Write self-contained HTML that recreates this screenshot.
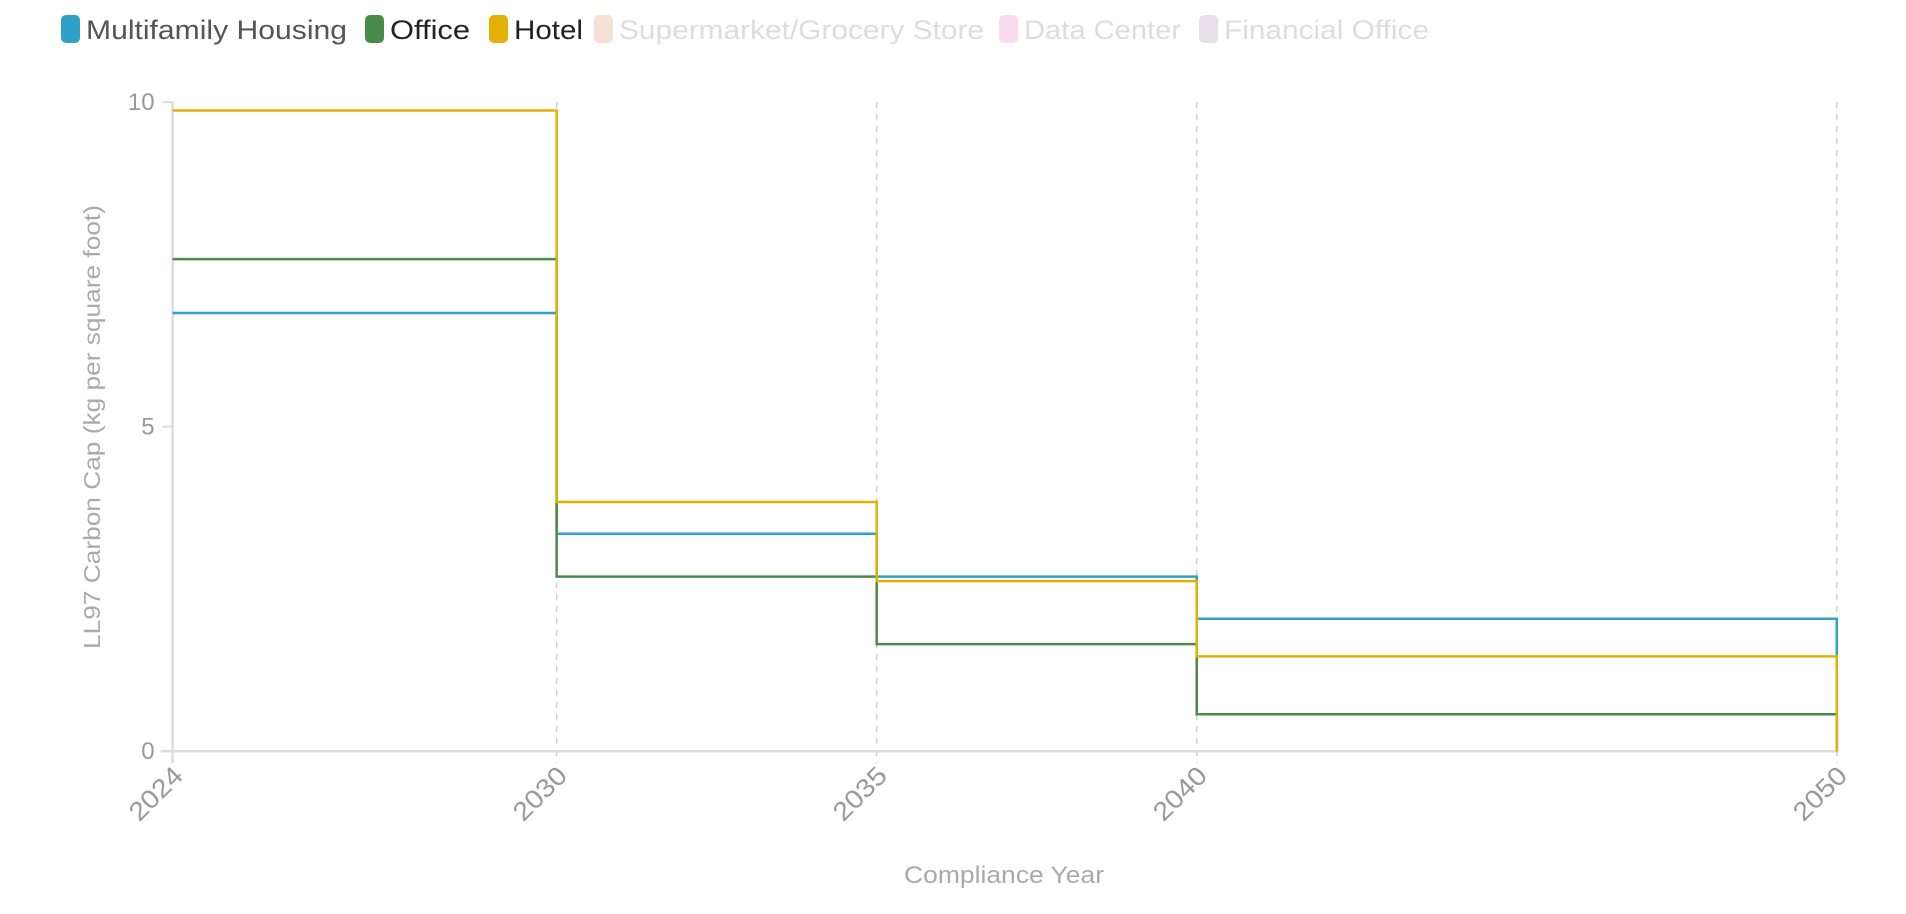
<!DOCTYPE html>
<html><head><meta charset="utf-8"><style>
body{margin:0;background:#fff;font-family:"Liberation Sans",sans-serif;}
svg{display:block}
</style></head><body>
<svg id="chart" width="1906" height="914" xmlns="http://www.w3.org/2000/svg" font-family="Liberation Sans, sans-serif"></svg>
<script>
const years=[2024,2030,2035,2040,2050];
const seriesNames=["Multifamily Housing","Office","Hotel","Supermarket/Grocery Store","Data Center","Financial Office"];
const seriesColors=["#2fa0c7","#4a8a4a","#e2b007","#f5e0d5","#fbdcef","#e8e0e8"];
const multifamily=[6.75,3.35,2.69,2.04];
const office=[7.58,2.69,1.65,0.57];
const hotel=[9.87,3.84,2.62,1.46];
const yTicks=[0,5,10];
const visible=[multifamily,office,hotel];

const NS="http://www.w3.org/2000/svg";
const svg=document.getElementById('chart');
const X0=172.6,X1=1836.8,Y0=751.2,Y1=102.1;
const xs=y=>X0+(y-2024)/(2050-2024)*(X1-X0);
const ys=v=>Y0-v/10*(Y0-Y1);
function mk(t,a,p){const e=document.createElementNS(NS,t);for(const k in a)e.setAttribute(k,a[k]);(p||svg).appendChild(e);return e;}

years.slice(1).forEach(y=>{
 const g=mk('line',{x1:xs(y),x2:xs(y),y1:Y1,y2:Y0+12,stroke:'#cfcfcf','stroke-width':1.5,'stroke-dasharray':'6,6'});
 
 
});
const ya=mk('line',{x1:X0,x2:X0,y1:Y1,y2:Y0+12,stroke:'#ddd','stroke-width':2.5});


const xa=mk('line',{x1:X0-12,x2:X1+2,y1:Y0,y2:Y0,stroke:'#ddd','stroke-width':2.5});


yTicks.forEach(v=>{
 mk('line',{x1:X0-10,x2:X0,y1:ys(v),y2:ys(v),stroke:'#ddd','stroke-width':2});
 const t=mk('text',{x:X0-18,y:ys(v)+8,'text-anchor':'end','font-size':24,fill:'#999'});
 t.textContent=v;
 
 
});
years.forEach(y=>{
 const t=mk('text',{transform:`translate(${xs(y)+12},${Y0+26}) rotate(-45)`,'text-anchor':'end','font-size':26,fill:'#999',textLength:64,lengthAdjust:'spacingAndGlyphs'});
 t.textContent=y;
 
 
});
visible.forEach((vals,i)=>{
 let d=`M${xs(years[0])},${ys(vals[0])}`;
 for(let k=0;k<vals.length;k++){
  d+=` L${xs(years[k+1])},${ys(vals[k])}`;
  const nv=k+1<vals.length?vals[k+1]:0;
  d+=` L${xs(years[k+1])},${ys(nv)}`;
 }
 const p=mk('path',{d:d,fill:'none',stroke:seriesColors[i],'stroke-width':2.5});
 
 
});
const yt=mk('text',{transform:`translate(100,427) rotate(-90)`,'text-anchor':'middle','font-size':23,fill:'#aaa',textLength:444,lengthAdjust:'spacingAndGlyphs'});
yt.textContent='LL97 Carbon Cap (kg per square foot)';


const xt=mk('text',{x:1004,y:883,'text-anchor':'middle','font-size':24,fill:'#aaa',textLength:200,lengthAdjust:'spacingAndGlyphs'});
xt.textContent='Compliance Year';


const legX=[61,365,489,594,999,1199];
const legW=[261,80,69,365,157,205];
const textCol=['#555','#222','#222','#ddd','#ddd','#ddd'];
seriesNames.forEach((n,i)=>{
 const g=mk('g',{});
 
 
 mk('rect',{x:legX[i],y:15,width:19,height:28,rx:5,fill:seriesColors[i]},g);
 const t=mk('text',{x:legX[i]+25,y:39,'font-size':27,fill:textCol[i],textLength:legW[i],lengthAdjust:'spacingAndGlyphs'},g);
 t.textContent=n;
});
</script>
</body></html>
